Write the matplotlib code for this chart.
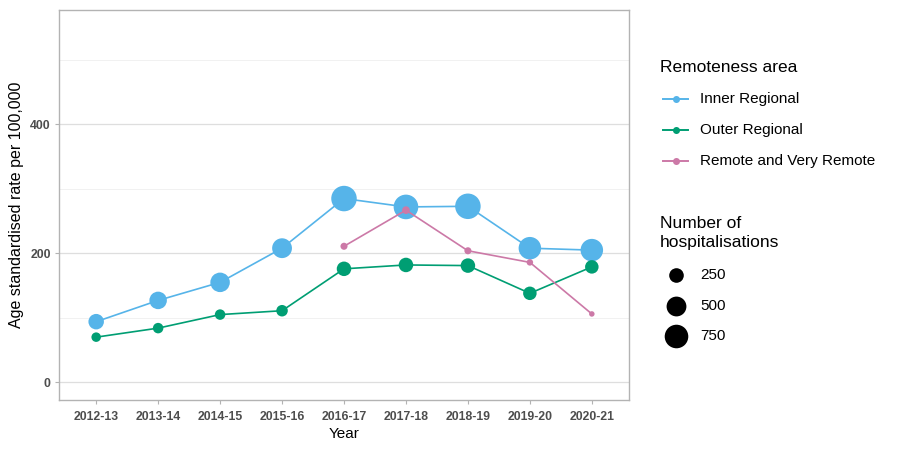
import numpy as np
import matplotlib
matplotlib.use("Agg")
import matplotlib.pyplot as plt
from matplotlib.lines import Line2D

plt.rcParams['font.family'] = ['Liberation Sans', 'DejaVu Sans']

years = ['2012-13', '2013-14', '2014-15', '2015-16', '2016-17',
         '2017-18', '2018-19', '2019-20', '2020-21']

inner_rate = [94, 127, 155, 208, 285, 272, 273, 208, 205]
inner_count = [285, 375, 482, 500, 900, 830, 900, 672, 672]

outer_rate = [70, 84, 105, 111, 176, 182, 181, 138, 179]
outer_count = [113, 131, 131, 154, 246, 246, 246, 211, 211]

remote_years = ['2016-17', '2017-18', '2018-19', '2019-20', '2020-21']
remote_rate = [211, 267, 204, 186, 106]
remote_count = [85, 90, 85, 82, 80]

size_breaks = [250, 500, 750]

colors = {'Inner Regional': '#56B4E9',
          'Outer Regional': '#009E73',
          'Remote and Very Remote': '#CC79A7'}

DPI = 100
VMIN, VMAX = 80, 900


def marker_area(v):
    # ggplot-like area scale: diameter (px) from ~5.5 to ~25.5
    v = np.asarray(v, dtype=float)
    d_px = 5.5 + 20 * np.sqrt(np.clip((v - VMIN) / (VMAX - VMIN), 0, 1))
    return (d_px * 72 / DPI) ** 2


fig = plt.figure(figsize=(9, 4.5), dpi=DPI)
ax = fig.add_axes([59 / 900, 50 / 450, 570 / 900, 390 / 450])

xpos = {y: i for i, y in enumerate(years)}

series = [
    ('Inner Regional', years, inner_rate, inner_count),
    ('Outer Regional', years, outer_rate, outer_count),
    ('Remote and Very Remote', remote_years, remote_rate, remote_count),
]

z = 3
for name, yrs, rate, count in series:
    xs = [xpos[y] for y in yrs]
    ax.plot(xs, rate, color=colors[name], lw=1.2, zorder=z)
    ax.scatter(xs, rate, s=marker_area(count), color=colors[name],
               linewidths=0, zorder=z + 1)
    z += 2

ax.set_xlim(-0.6, len(years) - 0.4)
ax.set_ylim(-27.5, 577.5)
ax.set_xticks(range(len(years)))
ax.set_xticklabels(years)
ax.set_yticks([0, 200, 400])
ax.set_yticks([100, 300, 500], minor=True)

ax.grid(which='major', axis='y', color='#dedede', lw=0.9, zorder=0)
ax.grid(which='minor', axis='y', color='#efefef', lw=0.6, zorder=0)
ax.set_axisbelow(True)

for sp in ax.spines.values():
    sp.set_color('#b3b3b3')
    sp.set_linewidth(1.0)

ax.tick_params(axis='both', which='major', length=3, width=0.8,
               color='#b3b3b3', labelcolor='#4d4d4d', labelsize=8.8, pad=3)
ax.tick_params(axis='y', which='minor', length=0)
ax.tick_params(axis='x', pad=5)
for lbl in ax.get_xticklabels() + ax.get_yticklabels():
    lbl.set_fontweight('bold')

ax.set_xlabel('Year', fontsize=11, color='black', labelpad=3)
ax.set_ylabel('Age standardised rate per 100,000', fontsize=11.5, color='black',
              labelpad=4)

# legends drawn in pixel coordinates of the figure
lax = fig.add_axes([0, 0, 1, 1])
lax.set_xlim(0, 900)
lax.set_ylim(450, 0)
lax.axis('off')

lax.text(660, 68, 'Remoteness area', fontsize=12.5, va='center', ha='left')
for i, name in enumerate(colors):
    yy = 99 + i * 31
    lax.add_line(Line2D([663, 688], [yy, yy], color=colors[name], lw=1.4))
    lax.scatter([675.5], [yy], s=(7 * 72 / DPI) ** 2, color=colors[name],
                linewidths=0)
    lax.text(700, yy, name, fontsize=11, va='center', ha='left')

lax.text(660, 233, 'Number of\nhospitalisations', fontsize=12.5, va='center',
         ha='left', linespacing=1.28)
for i, b in enumerate(size_breaks):
    yy = 275 + i * 30.5
    lax.scatter([675.5], [yy], s=marker_area(b), color='black', linewidths=0)
    lax.text(700, yy, str(b), fontsize=11, va='center', ha='left')

fig.savefig('out.png', dpi=DPI)
